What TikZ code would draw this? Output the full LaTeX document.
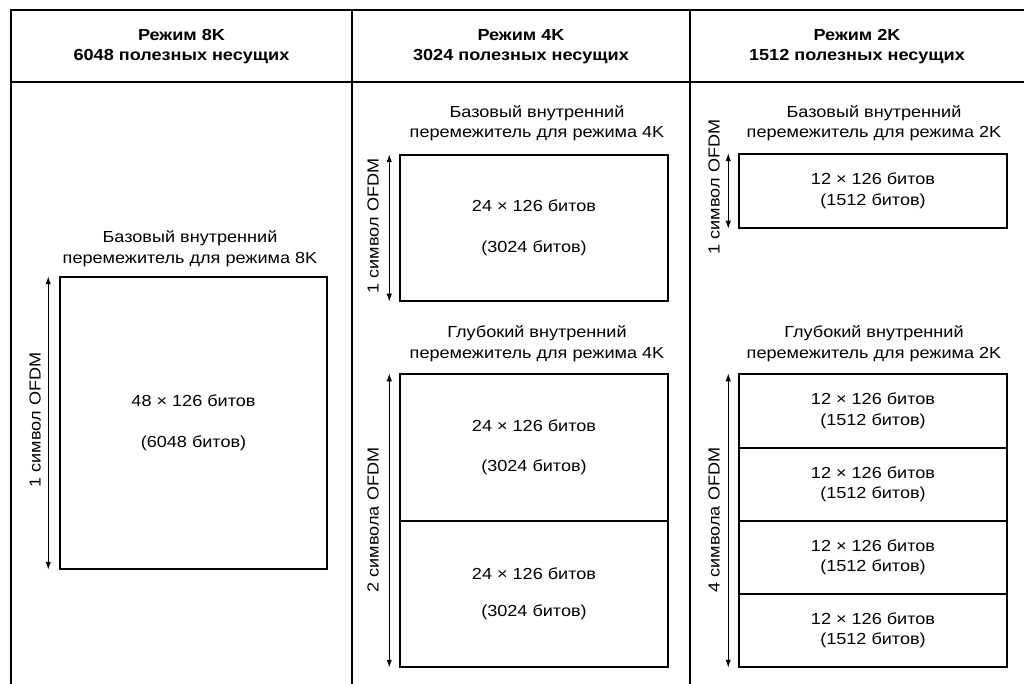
\documentclass[tikz,border=0pt]{standalone}
\usepackage{fontspec}
\setmainfont{Liberation Sans}[FakeStretch=1.13]
\usetikzlibrary{arrows.meta}
\newcommand\bodyfnt{\fontsize{16}{20.5}\selectfont}
\newcommand\headfnt{\fontsize{16}{20}\selectfont\bfseries}
\begin{document}
\begin{tikzpicture}[x=1pt,y=-1pt,
  tbl/.style={line width=1.6pt},
  cell/.style={draw, line width=1.5pt, inner sep=0pt, align=center, font=\bodyfnt},
  dim/.style={{Latex[length=8pt,width=5.5pt]}-{Latex[length=8pt,width=5.5pt]}, line width=1.2pt},
  lbl/.style={align=center, font=\bodyfnt, inner sep=0pt},
  head/.style={align=center, font=\headfnt, inner sep=0pt},
  vlab/.style={rotate=90, font=\bodyfnt, inner sep=0pt}]
\useasboundingbox (0,0) rectangle (1024,684);
% table
\coordinate (tl) at (11,10);
\coordinate (tr) at (1024,10);
\coordinate (bl) at (11,684);
\coordinate (hl) at (11,82);
\coordinate (hr) at (1024,82);
\coordinate (c1t) at (352,10);
\coordinate (c1b) at (352,684);
\coordinate (c2t) at (690,10);
\coordinate (c2b) at (690,684);
\draw[tbl] (bl) -- (tl) -- (tr);
\draw[tbl] (hl) -- (hr);
\draw[tbl] (c1t) -- (c1b);
\draw[tbl] (c2t) -- (c2b);
% headers
\node[head] (h8) at (181.5,46.5) {Режим 8K\\6048 полезных несущих};
\node[head] (h4) at (521,46.5) {Режим 4K\\3024 полезных несущих};
\node[head] (h2) at (857,46.5) {Режим 2K\\1512 полезных несущих};
% column 8K
\node[lbl] (l8) at (190,248.5) {Базовый внутренний\\перемежитель для режима 8K};
\node[cell, minimum width=267pt, minimum height=292pt] (b8) at (193.5,423) {48 × 126 битов\\[20pt](6048 битов)};
\draw[dim] ([xshift=-11pt]b8.north west) -- ([xshift=-11pt]b8.south west);
\node[vlab] (v8) at (35,420) {1 символ OFDM};
% column 4K
\node[lbl] (l4a) at (537,123) {Базовый внутренний\\перемежитель для режима 4K};
\node[cell, minimum width=268pt, minimum height=146pt] (b4) at (534,228) {24 × 126 битов\\[20pt](3024 битов)};
\draw[dim] ([xshift=-10pt]b4.north west) -- ([xshift=-10pt]b4.south west);
\node[vlab] (v4a) at (373,226) {1 символ OFDM};
\node[lbl] (l4b) at (537,343.5) {Глубокий внутренний\\перемежитель для режима 4K};
\node[cell, minimum width=268pt, minimum height=147pt] (d4a) at (534,447.5) {24 × 126 битов\\[20pt](3024 битов)};
\node[cell, minimum width=268pt, minimum height=146pt] (d4b) at (534,594) {24 × 126 битов\\[17pt](3024 битов)};
\draw[dim] ([xshift=-10pt]d4a.north west) -- ([xshift=-10pt]d4b.south west);
\node[vlab] (v4b) at (373,520) {2 символа OFDM};
% column 2K
\node[lbl] (l2a) at (874,123) {Базовый внутренний\\перемежитель для режима 2K};
\node[cell, minimum width=268pt, minimum height=74pt] (b2) at (873,191) {12 × 126 битов\\(1512 битов)};
\draw[dim] ([xshift=-10pt]b2.north west) -- ([xshift=-10pt]b2.south west);
\node[vlab] (v2a) at (714,187) {1 символ OFDM};
\node[lbl] (l2b) at (874,343.5) {Глубокий внутренний\\перемежитель для режима 2K};
\node[cell, minimum width=268pt, minimum height=74pt] (d2a) at (873,411) {12 × 126 битов\\(1512 битов)};
\node[cell, minimum width=268pt, minimum height=73pt] (d2b) at (873,484.5) {12 × 126 битов\\(1512 битов)};
\node[cell, minimum width=268pt, minimum height=73pt] (d2c) at (873,557.5) {12 × 126 битов\\(1512 битов)};
\node[cell, minimum width=268pt, minimum height=73pt] (d2d) at (873,630.5) {12 × 126 битов\\(1512 битов)};
\draw[dim] ([xshift=-10pt]d2a.north west) -- ([xshift=-10pt]d2d.south west);
\node[vlab] (v2b) at (714,520) {4 символа OFDM};
\end{tikzpicture}
\end{document}
